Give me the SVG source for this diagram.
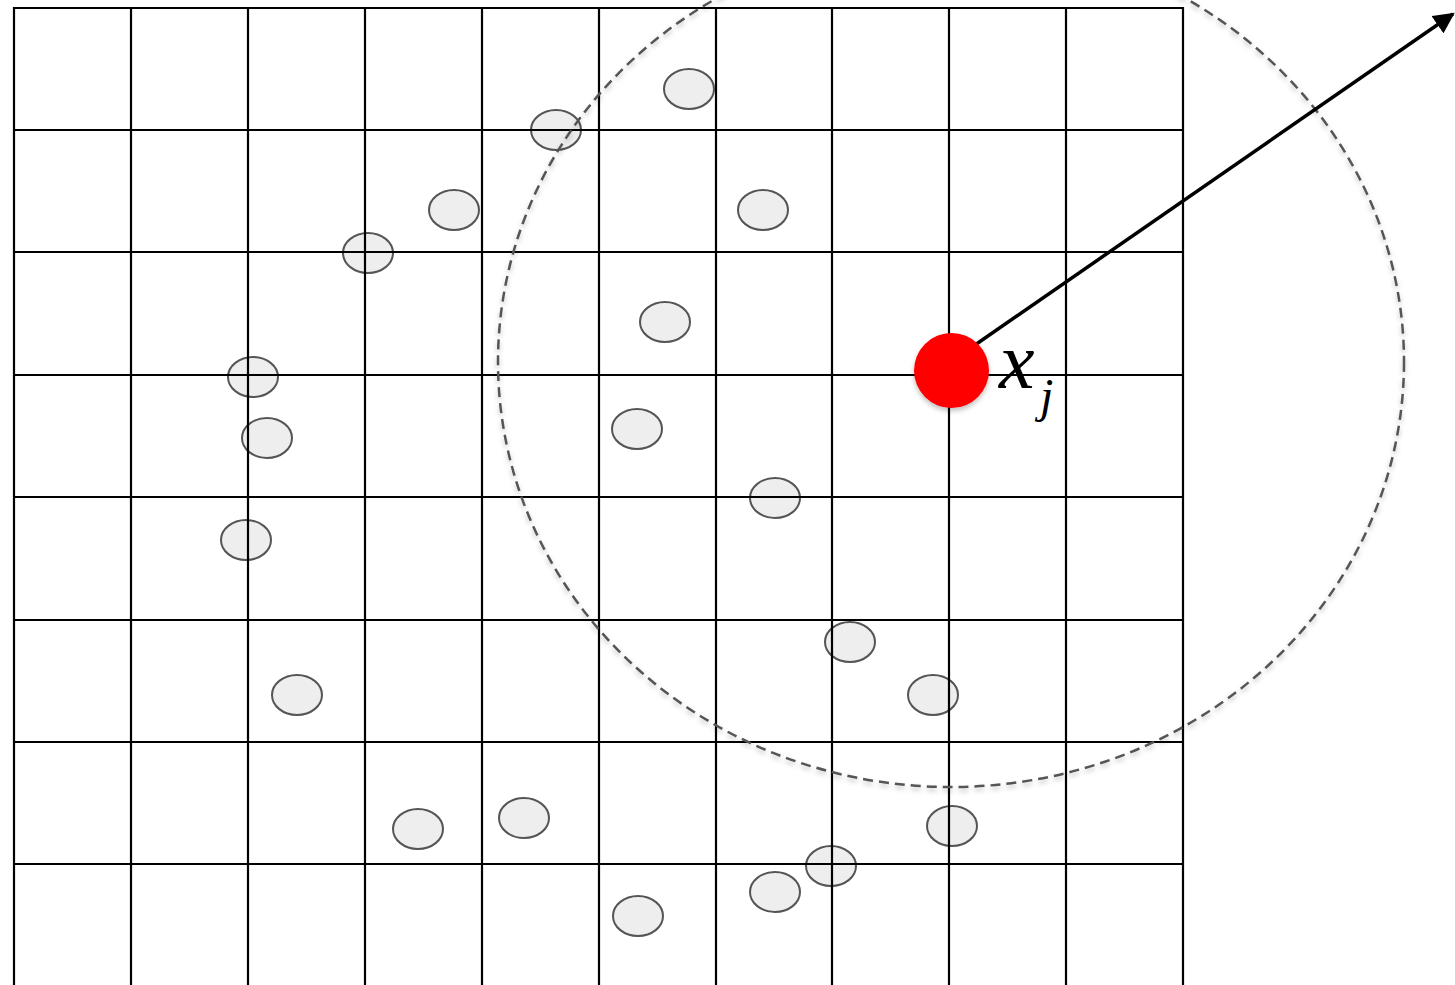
<svg xmlns="http://www.w3.org/2000/svg" width="1455" height="985" viewBox="0 0 1455 985">
<style>
.grid line{stroke:#000;stroke-width:2.2}
.pt{fill:#eeeeee;stroke:#555;stroke-width:2}
.label{font-family:"Liberation Serif","Times New Roman",serif;font-style:italic;fill:#000}
</style>
<defs>
<filter id="sh" x="-10%" y="-10%" width="120%" height="120%">
<feDropShadow dx="0" dy="3" stdDeviation="2.5" flood-color="#000" flood-opacity="0.25"/>
</filter>
<marker id="ah" viewBox="0 0 10 10" refX="9" refY="5" markerWidth="6" markerHeight="6" orient="auto" markerUnits="strokeWidth">
<path d="M0,0 L10,5 L0,10 z" fill="#000"/>
</marker>
</defs>
<rect width="1455" height="985" fill="#fff"/>
<g id="points">
<ellipse class="pt" cx="689" cy="89" rx="25" ry="20"/>
<ellipse class="pt" cx="556" cy="130" rx="25" ry="20"/>
<ellipse class="pt" cx="454" cy="210" rx="25" ry="20"/>
<ellipse class="pt" cx="763" cy="210" rx="25" ry="20"/>
<ellipse class="pt" cx="368" cy="253" rx="25" ry="20"/>
<ellipse class="pt" cx="665" cy="322" rx="25" ry="20"/>
<ellipse class="pt" cx="253" cy="377" rx="25" ry="20"/>
<ellipse class="pt" cx="267" cy="438" rx="25" ry="20"/>
<ellipse class="pt" cx="637" cy="429" rx="25" ry="20"/>
<ellipse class="pt" cx="775" cy="498" rx="25" ry="20"/>
<ellipse class="pt" cx="246" cy="540" rx="25" ry="20"/>
<ellipse class="pt" cx="850" cy="642" rx="25" ry="20"/>
<ellipse class="pt" cx="933" cy="695" rx="25" ry="20"/>
<ellipse class="pt" cx="297" cy="695" rx="25" ry="20"/>
<ellipse class="pt" cx="418" cy="829" rx="25" ry="20"/>
<ellipse class="pt" cx="524" cy="818" rx="25" ry="20"/>
<ellipse class="pt" cx="952" cy="826" rx="25" ry="20"/>
<ellipse class="pt" cx="831" cy="866" rx="25" ry="20"/>
<ellipse class="pt" cx="775" cy="892" rx="25" ry="20"/>
<ellipse class="pt" cx="638" cy="916" rx="25" ry="20"/>
</g>
<g id="grid" class="grid">
<line x1="14" y1="7" x2="14" y2="985"/>
<line x1="131" y1="7" x2="131" y2="985"/>
<line x1="248" y1="7" x2="248" y2="985"/>
<line x1="365" y1="7" x2="365" y2="985"/>
<line x1="482" y1="7" x2="482" y2="985"/>
<line x1="599" y1="7" x2="599" y2="985"/>
<line x1="716" y1="7" x2="716" y2="985"/>
<line x1="832" y1="7" x2="832" y2="985"/>
<line x1="949" y1="7" x2="949" y2="985"/>
<line x1="1066" y1="7" x2="1066" y2="985"/>
<line x1="1183" y1="7" x2="1183" y2="985"/>
<line x1="13" y1="8" x2="1184" y2="8"/>
<line x1="13" y1="130" x2="1184" y2="130"/>
<line x1="13" y1="252" x2="1184" y2="252"/>
<line x1="13" y1="375" x2="1184" y2="375"/>
<line x1="13" y1="497" x2="1184" y2="497"/>
<line x1="13" y1="620" x2="1184" y2="620"/>
<line x1="13" y1="742" x2="1184" y2="742"/>
<line x1="13" y1="864" x2="1184" y2="864"/>
</g>
<g id="neighborhood">
<ellipse cx="951" cy="362" rx="453" ry="425" fill="none" stroke="#555" stroke-width="2.5" stroke-dasharray="10 6" filter="url(#sh)"/>
</g>
<g id="connectors">
<line x1="975" y1="345" x2="1453" y2="14" stroke="#000" stroke-width="3.5" marker-end="url(#ah)"/>
</g>
<g id="xj">
<circle cx="951.5" cy="370.5" r="37.5" fill="#ff0000" filter="url(#sh)"/>
<text class="label" x="999" y="388" font-size="80">x</text>
<text class="label" x="1040" y="412" font-size="48">j</text>
</g>
</svg>
